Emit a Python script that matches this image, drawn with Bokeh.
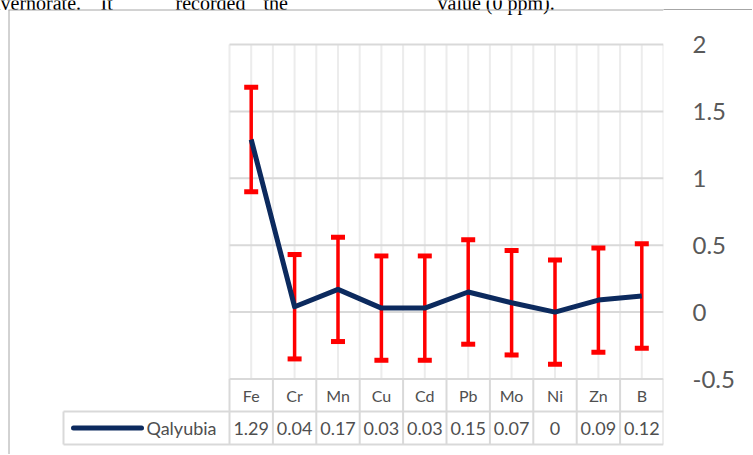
from bokeh.plotting import figure
from bokeh.models import (ColumnDataSource, FixedTicker, Range1d,
                          LinearAxis, NumeralTickFormatter)
from bokeh.core.properties import value
from bokeh.embed import file_html
from bokeh.resources import INLINE

# ---------------- data ----------------
categories = ["Fe", "Cr", "Mn", "Cu", "Cd", "Pb", "Mo", "Ni", "Zn", "B"]
values = [1.29, 0.04, 0.17, 0.03, 0.03, 0.15, 0.07, 0, 0.09, 0.12]
value_labels = ["1.29", "0.04", "0.17", "0.03", "0.03", "0.15", "0.07", "0", "0.09", "0.12"]
errors = [0.39, 0.39, 0.39, 0.39, 0.39, 0.39, 0.39, 0.39, 0.39, 0.39]
series_name = "Qalyubia"
y_ticks = [-0.5, 0, 0.5, 1, 1.5, 2]
# fragment of the surrounding document text, cut off at the top of the picture
doc_words = ["vernorate.", "It", "recorded", "the", "value (0 ppm)."]

# ---------------- layout (page pixels) ----------------
W, H = 752, 454
PLOT_L, PLOT_R = 229, 663      # page x of first / last category boundary
Y_TOP_PX, Y_BOT_PX = 44, 378.5 # page y of top / bottom tick
X_PER = (PLOT_R - PLOT_L) / len(categories)
Y_PER = (Y_BOT_PX - Y_TOP_PX) / (y_ticks[-1] - y_ticks[0])


def xv(px):
    return 0.5 + (px - PLOT_L) / X_PER


def yv(py):
    return y_ticks[-1] - (py - Y_TOP_PX) / Y_PER


NAVY = "#0c2a5e"
RED = "#ff0000"
GRID = "#d9d9d9"
VGRID = "#ececec"
TXT = "#595959"
TBL_TXT = "#4f4f4f"
BOX = "#a6a6a6"
FONT = value("Lato")

p = figure(width=W, height=H,
           x_range=Range1d(xv(0), xv(PLOT_R)),
           y_range=Range1d(yv(H), yv(0)),
           min_border_left=0, min_border_top=0, min_border_bottom=0,
           min_border_right=W - PLOT_R,
           x_axis_location=None, y_axis_location=None,
           output_backend="svg", toolbar_location=None,
           outline_line_color=None, background_fill_color="white",
           border_fill_color=None)
p.xgrid.visible = False
p.ygrid.visible = False
# top edge of the chart box continues behind the value axis
p.styles = {"background": "linear-gradient(#a6a6a6, #a6a6a6) 0px 9px / 100% 1px no-repeat, #ffffff"}

xs = [i + 1 for i in range(len(categories))]

# document text fragment (clipped at the top)
p.text(x=[xv(0), xv(100), xv(175), xv(263), xv(437)], y=yv(2.5), text=doc_words,
       text_font=value("Liberation Serif"), text_font_size="20px", text_color="black",
       text_align="left", text_baseline="alphabetic")

# chart box border (top and left)
p.segment(x0=xv(8), x1=xv(PLOT_R), y0=yv(9.5), y1=yv(9.5), line_color=BOX, line_width=1)
p.segment(x0=xv(8.5), x1=xv(8.5), y0=yv(9.5), y1=yv(H), line_color=BOX, line_width=1)

# light vertical grid (category centres and boundaries)
vx = [0.5 + k * 0.5 for k in range(2 * len(categories) + 1)]
p.segment(x0=vx, x1=vx, y0=y_ticks[0], y1=y_ticks[-1], line_color=VGRID, line_width=2)
# horizontal grid
p.segment(x0=0.5, x1=len(categories) + 0.5, y0=y_ticks, y1=y_ticks,
          line_color=GRID, line_width=2)

# ---------------- data table ----------------
row_top = y_ticks[0]
row_mid = yv(411)
row_bot = yv(444)
legend_left = xv(63)
bx = [0.5 + k for k in range(len(categories) + 1)]
p.segment(x0=legend_left, x1=len(categories) + 0.5, y0=[row_mid, row_bot], y1=[row_mid, row_bot],
          line_color=GRID, line_width=2)
p.segment(x0=bx, x1=bx, y0=row_bot, y1=row_top, line_color=GRID, line_width=2)
p.segment(x0=legend_left, x1=legend_left, y0=row_bot, y1=row_mid, line_color=GRID, line_width=2)

p.text(x=xs, y=(row_top + row_mid) / 2, text=categories, text_font=FONT,
       text_font_size="16px", text_color=TBL_TXT, text_align="center", text_baseline="middle")
p.text(x=xs, y=(row_mid + row_bot) / 2, text=value_labels, text_font=FONT,
       text_font_size="18px", text_color=TBL_TXT, text_align="center", text_baseline="middle")
p.segment(x0=xv(73), x1=xv(141), y0=(row_mid + row_bot) / 2, y1=(row_mid + row_bot) / 2,
          line_color=NAVY, line_width=5, line_cap="round")
p.text(x=xv(146), y=(row_mid + row_bot) / 2, text=[series_name], text_font=FONT,
       text_font_size="18px", text_color=TBL_TXT, text_align="left", text_baseline="middle")

# ---------------- series with error bars ----------------
src = ColumnDataSource(dict(
    x=xs, y=values,
    upper=[v + e for v, e in zip(values, errors)],
    lower=[v - e for v, e in zip(values, errors)],
))
p.segment(x0="x", x1="x", y0="lower", y1="upper", source=src, line_color=RED, line_width=3.5)
for col in ("upper", "lower"):
    p.rect(x="x", y=col, source=src, width=14, height=5, width_units="screen",
           height_units="screen", fill_color=RED, line_color=None)
p.line("x", "y", source=src, line_color=NAVY, line_width=5, line_join="round")

# ---------------- right value axis ----------------
ax = LinearAxis(ticker=FixedTicker(ticks=y_ticks),
                formatter=NumeralTickFormatter(format="0.[0]"),
                axis_line_color=None, major_tick_line_color=None,
                minor_tick_line_color=None, major_tick_in=0, major_tick_out=0,
                major_label_standoff=29,
                major_label_text_font="Lato", major_label_text_font_size="24px",
                major_label_text_color=TXT)
p.add_layout(ax, "right")

open("out.html", "w").write(file_html(p, INLINE))
